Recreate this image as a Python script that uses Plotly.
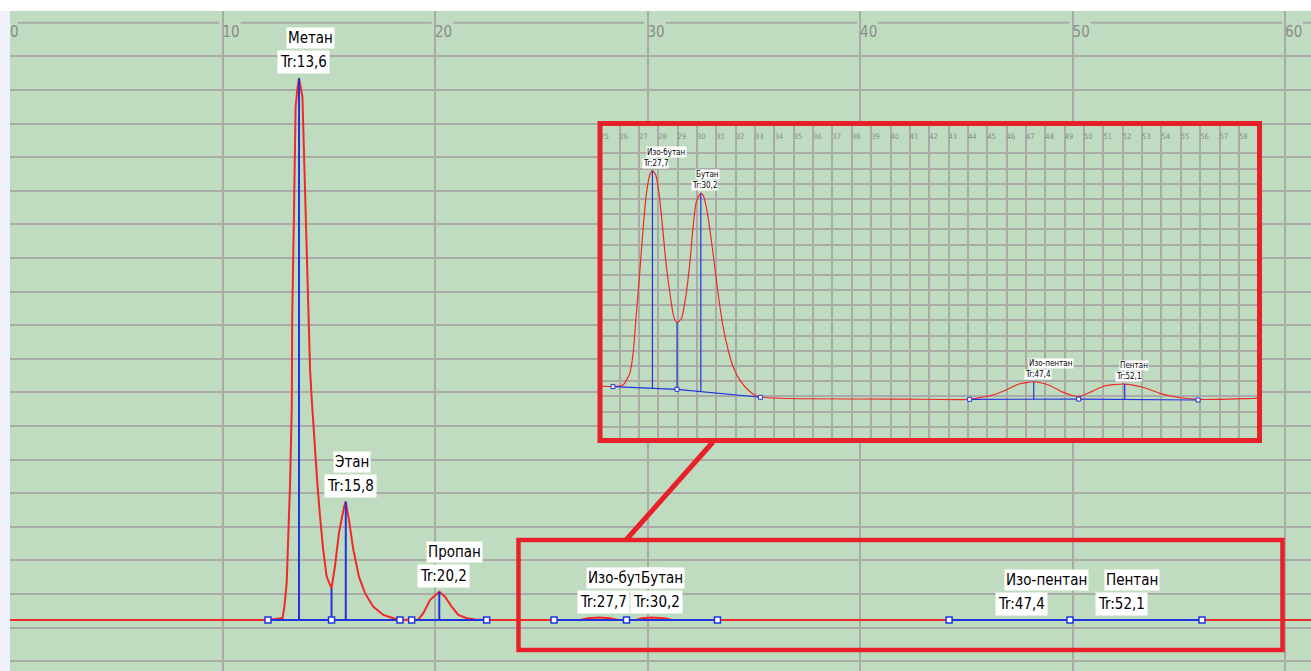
import plotly.graph_objects as go

W, H = 1311, 671

# ---------------- DATA ----------------
# Main chromatogram: retention time (min) and signal (grid units)
main_t = [0, 12.14, 12.83, 12.91, 13.02, 13.08, 13.18, 13.26, 13.27, 13.28, 13.35, 13.40, 13.44,
          13.53, 13.6, 13.76, 13.80, 13.85, 13.92, 14.01, 14.07, 14.12, 14.20, 14.35, 14.46,
          14.59, 14.74, 14.90, 15.13, 15.29, 15.48, 15.72, 15.8, 15.97, 16.16, 16.42, 16.71,
          17.10, 17.57, 18.04, 18.35, 19.21, 19.45, 19.76, 20.2, 20.47, 20.79, 21.10, 21.49,
          21.88, 22.45, 26.82, 27.2, 27.7, 28.24, 28.61, 29.46, 29.74, 30.2, 30.78, 31.15,
          46.5, 47.4, 48.3, 51.2, 52.1, 53.0, 61.22]
main_y = [0.23, 0.23, 0.29, 0.62, 1.33, 2.31, 4.31, 6.58, 7.97, 9.26, 11.84, 14.02, 15.51,
          16.06, 16.35, 15.80, 14.91, 13.72, 12.43, 10.50, 8.71, 7.67, 6.78, 5.29, 4.31,
          3.30, 2.31, 1.52, 1.17, 1.82, 2.82, 3.60, 3.75, 3.12, 2.31, 1.52, 1.02,
          0.62, 0.38, 0.28, 0.23, 0.24, 0.43, 0.82, 1.07, 0.92, 0.62, 0.38, 0.28,
          0.245, 0.23, 0.23, 0.28, 0.30, 0.28, 0.23, 0.23, 0.28, 0.30, 0.28, 0.23,
          0.23, 0.24, 0.23, 0.23, 0.24, 0.23, 0.23]

peak_names = ["Метан", "Этан", "Пропан", "Изо-бутан", "Бутан", "Изо-пентан", "Пентан"]
peak_tr = [13.6, 15.8, 20.2, 27.7, 30.2, 47.4, 52.1]
peak_tr_labels = ["Tr:13,6", "Tr:15,8", "Tr:20,2", "Tr:27,7", "Tr:30,2", "Tr:47,4", "Tr:52,1"]
peak_h_main = [16.35, 3.75, 1.07, 0.29, 0.29, 0.24, 0.24]

main_base_level = 0.23
main_base_segments = [[12.14, 15.13, 18.35], [18.9, 22.43], [25.6, 29.01, 33.29], [44.19, 49.88, 56.09]]
main_valley_t = [15.13]
main_valley_y = [1.17]

# Inset (zoom 25..59 min)
inset_t = [24.97, 25.66, 26.18, 26.53, 26.70, 26.87, 27.04, 27.21, 27.39, 27.56, 27.7, 27.87,
           28.04, 28.22, 28.42, 28.63, 28.80, 28.97, 29.20, 29.42, 29.63, 29.80, 29.97, 30.2,
           30.35, 30.57, 30.83, 31.09, 31.35, 31.61, 31.87, 32.21, 32.64, 33.08, 33.42, 35.32,
           40.49, 44.09, 44.42, 45.29, 45.97, 46.63, 47.4, 48.17, 48.84, 49.50, 49.72, 50.39,
           51.05, 52.1, 53.04, 53.92, 54.81, 55.89, 57.02, 58.78, 58.95]
inset_y = [2.70, 2.64, 2.75, 3.52, 4.84, 7.47, 10.11, 12.96, 15.38, 16.58, 16.86, 16.58,
           15.38, 13.18, 10.54, 8.56, 7.25, 6.86, 7.14, 8.56, 10.76, 13.18, 14.82, 15.38,
           15.15, 13.83, 11.42, 8.79, 6.59, 5.05, 3.95, 3.08, 2.42, 2.02, 1.94, 1.84,
           1.82, 1.80, 1.87, 2.09, 2.42, 2.81, 2.96, 2.75, 2.31, 2.02, 1.98, 2.31,
           2.68, 2.81, 2.60, 2.20, 1.94, 1.80, 1.80, 1.87, 1.89]

inset_peak_names = ["Изо-бутан", "Бутан", "Изо-пентан", "Пентан"]
inset_peak_tr = [27.7, 30.2, 47.4, 52.1]
inset_peak_labels = ["Tr:27,7", "Tr:30,2", "Tr:47,4", "Tr:52,1"]
inset_peak_h = [16.86, 15.38, 2.96, 2.81]
inset_peak_base = [2.53, 2.32, 1.81, 1.79]
inset_valley_t = [28.97]
inset_valley_y = [6.86]
inset_valley_base = [2.46]
inset_base_t = [[25.66, 28.97, 33.28], [44.09, 49.72, 55.89]]
inset_base_y = [[2.64, 2.46, 1.94], [1.80, 1.82, 1.76]]

main_ticks = [0, 10, 20, 30, 40, 50, 60]
inset_ticks = list(range(25, 60))

# ---------------- STYLE ----------------
GREEN = "#c0dcc0"
GRID = "#a9aba9"
RED = "#f02828"
BLUE = "#2233dd"
FRAME = "#e8202a"
TICKC = "#8a8a8a"
FONT = "DejaVu Sans Condensed, Liberation Sans Narrow, DejaVu Sans, sans-serif"

fig = go.Figure()

# ---- main subplot ----
fig.add_trace(go.Scatter(x=main_t, y=main_y, mode="lines", line=dict(color=RED, width=2),
                         xaxis="x", yaxis="y", hoverinfo="skip", showlegend=False))
vx, vy = [], []
for t, h in zip(peak_tr[:3], peak_h_main[:3]):
    vx += [t, t, None]
    vy += [main_base_level, h, None]
for t, h in zip(main_valley_t, main_valley_y):
    vx += [t, t, None]
    vy += [main_base_level, h, None]
fig.add_trace(go.Scatter(x=vx, y=vy, mode="lines", line=dict(color=BLUE, width=2),
                         xaxis="x", yaxis="y", hoverinfo="skip", showlegend=False))
bx, by = [], []
for seg in main_base_segments:
    bx += seg + [None]
    by += [main_base_level] * len(seg) + [None]
fig.add_trace(go.Scatter(x=bx, y=by, mode="lines+markers", line=dict(color=BLUE, width=2),
                         marker=dict(symbol="square", size=6, color="white",
                                     line=dict(color=BLUE, width=1.5)),
                         xaxis="x", yaxis="y", hoverinfo="skip", showlegend=False))

# ---- inset subplot ----
fig.add_trace(go.Scatter(x=inset_t, y=inset_y, mode="lines",
                         line=dict(color=RED, width=1.2, shape="spline", smoothing=0.6),
                         xaxis="x2", yaxis="y2", hoverinfo="skip", showlegend=False))
ivx, ivy = [], []
for t, h, b in zip(inset_peak_tr, inset_peak_h, inset_peak_base):
    ivx += [t, t, None]
    ivy += [b, h, None]
for t, h, b in zip(inset_valley_t, inset_valley_y, inset_valley_base):
    ivx += [t, t, None]
    ivy += [b, h, None]
fig.add_trace(go.Scatter(x=ivx, y=ivy, mode="lines", line=dict(color=BLUE, width=1.2),
                         xaxis="x2", yaxis="y2", hoverinfo="skip", showlegend=False))
ibx, iby = [], []
for st, sy in zip(inset_base_t, inset_base_y):
    ibx += st + [None]
    iby += sy + [None]
fig.add_trace(go.Scatter(x=ibx, y=iby, mode="lines+markers", line=dict(color=BLUE, width=1.2),
                         marker=dict(symbol="square", size=4, color="white", line=dict(color=BLUE, width=1)),
                         xaxis="x2", yaxis="y2", hoverinfo="skip", showlegend=False))

# ---- annotations ----
ann = []
for name, t, lab, h in zip(peak_names, peak_tr, peak_tr_labels, peak_h_main):
    ann.append(dict(x=t, y=h, xref="x", yref="y", text=lab, showarrow=False, xanchor="left",
                    yanchor="bottom", xshift=-22, yshift=4, bgcolor="white", borderpad=2,
                    font=dict(family=FONT, size=15, color="black")))
    ann.append(dict(x=t, y=h, xref="x", yref="y", text=name, showarrow=False, xanchor="left",
                    yanchor="bottom", xshift=-13, yshift=29, bgcolor="white", borderpad=1,
                    font=dict(family=FONT, size=15, color="black")))
for name, t, lab, h in zip(inset_peak_names, inset_peak_tr, inset_peak_labels, inset_peak_h):
    ann.append(dict(x=t, y=h, xref="x2", yref="y2", text=lab, showarrow=False, xanchor="left",
                    yanchor="bottom", xshift=-10, yshift=2, bgcolor="white", borderpad=0,
                    font=dict(family=FONT, size=8, color="black")))
    ann.append(dict(x=t, y=h, xref="x2", yref="y2", text=name, showarrow=False, xanchor="left",
                    yanchor="bottom", xshift=-6, yshift=13, bgcolor="white", borderpad=0,
                    font=dict(family=FONT, size=8, color="black")))

fig.update_layout(annotations=ann)

# ---- shapes ----
def px(x):
    return x / W

def py(y):
    return 1 - y / H

shapes = []
# left light strip
shapes.append(dict(type="rect", xref="paper", yref="paper", x0=0, x1=px(10), y0=0, y1=py(11),
                   fillcolor="#eef2f8", line=dict(width=0), layer="below"))
# main top axis line segments (broken at tick labels)
for t in main_ticks:
    start = t + (0.36 if t == 0 else 0.85)
    end = t + 9.85
    shapes.append(dict(type="line", xref="x", yref="y", x0=start, x1=end, y0=18, y1=18,
                       line=dict(color=GRID, width=2), layer="below"))
# opaque inset background (in inset subplot layer)
shapes.append(dict(type="rect", xref="x2", yref="y2", x0=20, x1=65, y0=-5, y1=25,
                   fillcolor=GREEN, line=dict(width=0), layer="below"))
# red frames and connector
shapes.append(dict(type="rect", xref="paper", yref="paper", x0=px(600), x1=px(1259.5),
                   y0=py(440.5), y1=py(123.5), line=dict(color=FRAME, width=5), layer="above"))
shapes.append(dict(type="rect", xref="paper", yref="paper", x0=px(518.5), x1=px(1282.5),
                   y0=py(650), y1=py(540), line=dict(color=FRAME, width=4.5), layer="above"))
shapes.append(dict(type="line", xref="paper", yref="paper", x0=px(713), y0=py(442),
                   x1=px(626), y1=py(540), line=dict(color=FRAME, width=5), layer="above"))

fig.update_layout(
    width=W, height=H,
    margin=dict(l=0, r=0, t=0, b=0),
    paper_bgcolor="white",
    plot_bgcolor=GREEN,
    showlegend=False,
    shapes=shapes,
    xaxis=dict(domain=[px(10), 1], range=[0, 61.22], side="top", anchor="y",
               tickvals=main_ticks, ticklabelposition="inside right", ticks="",
               ticklabelstandoff=9,
               tickfont=dict(family=FONT, size=15, color=TICKC),
               showgrid=True, gridcolor=GRID, gridwidth=2, zeroline=False, showline=False),
    yaxis=dict(domain=[0, py(11)], range=[-1.289, 18.35], anchor="x",
               tickvals=list(range(-1, 18)), showticklabels=False, ticks="",
               showgrid=True, gridcolor=GRID, gridwidth=2, zeroline=False, showline=False),
    xaxis2=dict(domain=[px(600), px(1257)], range=[24.99, 58.936], side="top", anchor="y2",
                tickvals=inset_ticks, ticklabelposition="inside right", ticks="",
                ticklabelstandoff=3,
                tickfont=dict(family=FONT, size=7.5, color=TICKC),
                showgrid=True, gridcolor=GRID, gridwidth=1.5, zeroline=False, showline=False),
    yaxis2=dict(domain=[py(438), py(125)], range=[-0.744, 19.87], anchor="x2",
                tickvals=list(range(0, 20)), showticklabels=False, ticks="",
                showgrid=True, gridcolor=GRID, gridwidth=1.5, zeroline=False, showline=False),
)

fig.write_html("out.html", config={"displayModeBar": False},
               post_script="document.body.style.margin='0px';document.body.style.overflow='hidden';")
